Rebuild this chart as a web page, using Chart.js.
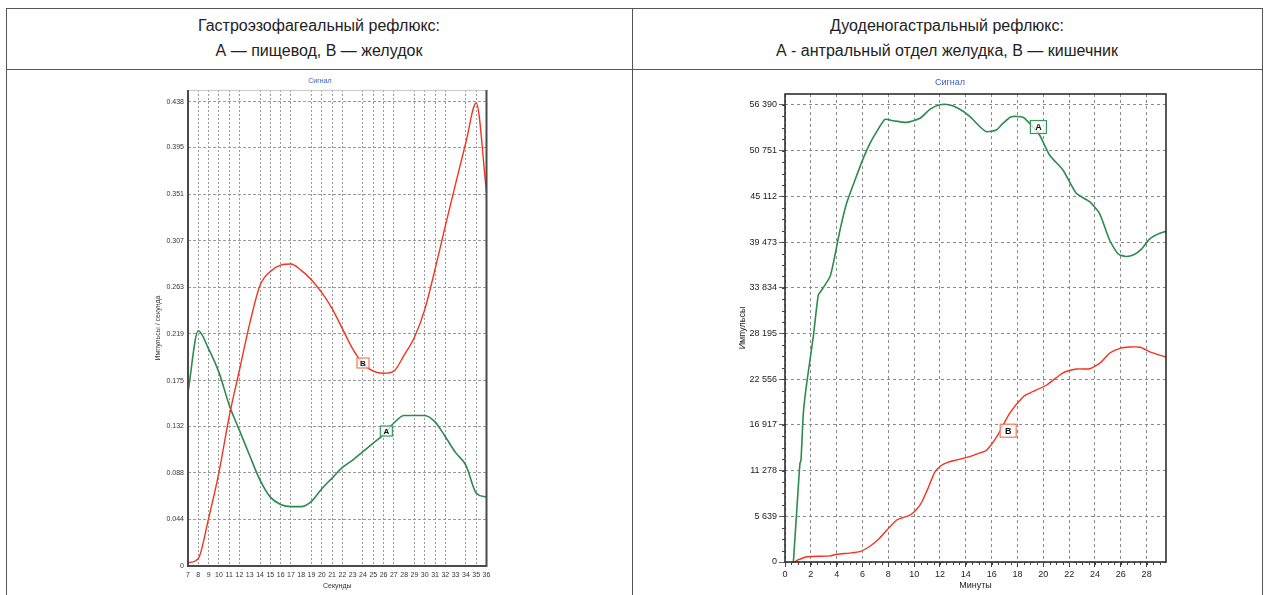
<!DOCTYPE html>
<html>
<head>
<meta charset="utf-8">
<script src="https://cdn.jsdelivr.net/npm/chart.js@4.4.1/dist/chart.umd.min.js"></script>
<style>
  html,body{margin:0;padding:0;background:#fff;}
  body{width:1267px;height:595px;overflow:hidden;position:relative;font-family:"Liberation Sans",Arial,sans-serif;}
  .ln{position:absolute;background:#555;}
  .hdr{position:absolute;top:13px;text-align:center;font-size:16px;line-height:25px;color:#222;}
  .cv{position:absolute;}
</style>
</head>
<body>
<div class="ln" style="left:6px;top:8px;width:1257px;height:1px;"></div>
<div class="ln" style="left:6px;top:69px;width:1257px;height:1px;"></div>
<div class="ln" style="left:6px;top:8px;width:1px;height:600px;"></div>
<div class="ln" style="left:632px;top:8px;width:1px;height:600px;"></div>
<div class="ln" style="left:1262px;top:8px;width:1px;height:600px;"></div>
<div class="hdr" style="left:6px;width:626px;">Гастроэзофагеальный рефлюкс:<br>А — пищевод, В — желудок</div>
<div class="hdr" style="left:632px;width:630px;">Дуоденогастральный рефлюкс:<br>А - антральный отдел желудка, В — кишечник</div>
<div class="cv" style="left:130px;top:72px;width:370px;height:523px;"><canvas id="c1"></canvas></div>
<div class="cv" style="left:720px;top:72px;width:470px;height:523px;"><canvas id="c2"></canvas></div>
<script>
// ---------- Left chart data (Гастроэзофагеальный рефлюкс) ----------
const leftSeconds = ['7','8','9','10','11','12','13','14','15','16','17','18','19','20','21','22','23','24','25','26','27','28','29','30','31','32','33','34','35','36'];
const leftA = [0.164,0.222,0.205,0.183,0.152,0.128,0.104,0.081,0.065,0.058,0.056,0.056,0.061,0.073,0.083,0.093,0.100,0.108,0.116,0.124,0.135,0.142,0.142,0.142,0.136,0.122,0.107,0.095,0.069,0.065];
const leftB = [0.003,0.007,0.045,0.088,0.141,0.185,0.229,0.265,0.278,0.284,0.285,0.279,0.270,0.258,0.243,0.224,0.205,0.191,0.184,0.182,0.184,0.199,0.216,0.242,0.280,0.321,0.361,0.400,0.437,0.353];
const leftYTicks = [0,0.044,0.088,0.132,0.175,0.219,0.263,0.307,0.351,0.395,0.438];
const leftYTickLabels = ['0','0.044','0.088','0.132','0.175','0.219','0.263','0.307','0.351','0.395','0.438'];
const leftMarkers = [{x:17.0,y:0.1916,text:'B',series:'B'},{x:19.27,y:0.1274,text:'A',series:'A'}];

// ---------- Right chart data (Дуоденогастральный рефлюкс) ----------
const rightAx = [0.65,0.83,1.03,1.16,1.24,1.42,1.68,2.19,2.58,2.84,3.48,3.74,4.26,4.77,5.42,6.06,6.58,7.1,7.74,8.38,9.42,10.45,11.22,12.0,12.77,13.54,14.32,15.09,15.6,16.36,16.87,17.52,18.42,18.94,19.71,20.48,21.52,22.55,23.58,24.35,25.13,25.8,26.4,27.0,27.6,28.2,28.8,29.5];
const rightAy = [0,4360,9290,12180,12590,18350,22050,27800,32950,33560,35200,36860,40970,44260,47140,49810,51660,53100,54620,54450,54250,54750,55860,56430,56390,55860,54950,53710,53100,53300,54130,54950,54880,54130,52690,50220,48370,45490,44460,43020,39730,38000,37700,37900,38600,39800,40400,40800];
const rightBx = [0.75,1.0,1.7,3.5,4.0,5.0,5.8,6.6,7.3,7.9,8.65,9.7,10.2,10.6,11.1,11.6,12.1,12.6,13.3,14.3,15.0,15.6,16.4,17.4,18.45,18.96,20.26,21.5,22.58,23.6,24.4,25.15,26.0,26.7,27.5,28.3,29.5];
const rightBy = [0,250,650,750,950,1100,1270,1970,2900,3950,5180,5800,6500,7440,9200,11100,11900,12300,12600,13000,13400,13800,15460,18380,20400,20850,21840,23320,23810,23850,24550,25790,26400,26530,26500,25900,25300];
const rightXTicks = [0,2,4,6,8,10,12,14,16,18,20,22,24,26,28];
const rightYTicks = [0,5639,11278,16917,22556,28195,33834,39473,45112,50751,56390];
const rightYTickLabels = ['0','5 639','11 278','16 917','22 556','28 195','33 834','39 473','45 112','50 751','56 390'];
const rightMarkers = [{x:19.62,y:53675,text:'A',series:'A'},{x:17.28,y:16200,text:'B',series:'B'}];

const GREEN = '#2e8b4e', RED = '#f2331d';
const FONT = '"Liberation Sans", Arial, sans-serif';

const markerPlugin = {
  id:'markers',
  afterDatasetsDraw(chart, args, opts){
    const {ctx, scales:{x, y}} = chart;
    ctx.save();
    opts.items.forEach(m => {
      const px = x.getPixelForValue(m.x), py = y.getPixelForValue(m.y);
      const w = opts.w, h = opts.h;
      ctx.fillStyle = 'rgba(255,255,255,0.75)';
      ctx.fillRect(px - w/2, py - h/2, w, h);
      ctx.strokeStyle = m.series === 'A' ? '#3a9a5a' : '#f07a5a';
      ctx.lineWidth = 1.2;
      ctx.strokeRect(px - w/2, py - h/2, w, h);
      ctx.fillStyle = '#111';
      ctx.font = 'bold ' + opts.fs + 'px ' + FONT;
      ctx.textAlign = 'center'; ctx.textBaseline = 'middle';
      ctx.fillText(m.text, px, py + 0.5);
    });
    ctx.restore();
  }
};

const framePlugin = {
  id:'frame',
  afterDatasetsDraw(chart, args, opts){
    const {ctx, chartArea:a} = chart;
    ctx.save();
    ctx.setLineDash([]);
    if (opts.style === 'left') {
      ctx.strokeStyle = '#c8c8c8'; ctx.lineWidth = 1;
      ctx.beginPath(); ctx.moveTo(a.left, a.top + 0.5); ctx.lineTo(a.right, a.top + 0.5); ctx.stroke();
      ctx.strokeStyle = '#4a4a4a'; ctx.lineWidth = 2;
      ctx.beginPath();
      ctx.moveTo(a.left, a.top); ctx.lineTo(a.left, a.bottom); ctx.lineTo(a.right, a.bottom); ctx.lineTo(a.right, a.top);
      ctx.stroke();
    } else {
      ctx.strokeStyle = '#222'; ctx.lineWidth = 1.5;
      ctx.strokeRect(a.left, a.top, a.right - a.left, a.bottom - a.top);
      // minor ticks
      const xs = chart.scales.x, ys = chart.scales.y;
      ctx.strokeStyle = '#444'; ctx.lineWidth = 1;
      ctx.beginPath();
      for (let v = 0.5; v < xs.max; v += 0.5) {
        const p = Math.round(xs.getPixelForValue(v)) + 0.5;
        ctx.moveTo(p, a.bottom); ctx.lineTo(p, a.bottom + 3);
      }
      const step = 5639/4;
      for (let v = step; v < ys.max; v += step) {
        const p = Math.round(ys.getPixelForValue(v)) + 0.5;
        ctx.moveTo(a.left - 3, p); ctx.lineTo(a.left, p);
      }
      ctx.stroke();
    }
    ctx.restore();
  }
};

function noPad(s){ s.paddingLeft = 0; s.paddingRight = 0; s.paddingTop = 0; s.paddingBottom = 0; }

// ---------- Left chart ----------
new Chart(document.getElementById('c1'), {
  type:'line',
  data:{
    labels:leftSeconds,
    datasets:[
      {label:'B', data:leftB, borderColor:RED, borderWidth:1.4, pointRadius:0, cubicInterpolationMode:'monotone'},
      {label:'A', data:leftA, borderColor:GREEN, borderWidth:1.6, pointRadius:0, cubicInterpolationMode:'monotone'}
    ]
  },
  options:{
    responsive:true, maintainAspectRatio:false, animation:false,
    layout:{padding:{left:23.5,right:13.5,top:0,bottom:0}},
    plugins:{
      legend:{display:false}, tooltip:{enabled:false},
      title:{display:true, text:'Сигнал', color:'#3a5ccc', font:{family:FONT,size:7,weight:'normal'}, padding:{top:5,bottom:4.6}},
      markers:{items:leftMarkers, w:12, h:10, fs:8},
      frame:{style:'left'}
    },
    scales:{
      x:{
        type:'category',
        afterFit(s){ s.height = 29; noPad(s); },
        grid:{drawTicks:false, lineWidth:1,
          color:(c)=>{ const v = 7 + c.index; return (v >= 13 && (v - 13) % 5 === 0) ? 'rgba(0,0,0,0)' : '#9a9a9a'; }},
        border:{display:false, dash:[2,2]},
        ticks:{autoSkip:false, maxRotation:0, minRotation:0, padding:5, color:'#333', font:{family:FONT,size:7}},
        title:{display:true, text:'Секунды', color:'#333', font:{family:FONT,size:7}, padding:{top:0,bottom:4.8}}
      },
      y:{
        min:0, max:0.4493,
        afterFit(s){ s.width = 34.5; noPad(s); },
        afterBuildTicks(s){ s.ticks = leftYTicks.map(v=>({value:v})); },
        grid:{drawTicks:false, color:'#9a9a9a', lineWidth:1},
        border:{display:false, dash:[3,2]},
        ticks:{padding:4, color:'#333', font:{family:FONT,size:7}, callback:(v,i)=>leftYTickLabels[i]},
        title:{display:true, text:'Импульсы / секунда', color:'#333', font:{family:FONT,size:7}, padding:{top:0,bottom:0}}
      }
    }
  },
  plugins:[markerPlugin, framePlugin]
});

// ---------- Right chart ----------
new Chart(document.getElementById('c2'), {
  type:'line',
  data:{
    datasets:[
      {label:'A', data:rightAx.map((x,i)=>({x, y:rightAy[i]})), borderColor:GREEN, borderWidth:1.6, pointRadius:0, tension:0.2},
      {label:'B', data:rightBx.map((x,i)=>({x, y:rightBy[i]})), borderColor:RED, borderWidth:1.4, pointRadius:0, tension:0.2}
    ]
  },
  options:{
    responsive:true, maintainAspectRatio:false, animation:false,
    layout:{padding:{left:14,right:24,top:0,bottom:0}},
    plugins:{
      legend:{display:false}, tooltip:{enabled:false},
      title:{display:true, text:'Сигнал', color:'#3a5ccc', font:{family:FONT,size:9,weight:'normal'}, padding:{top:5.2,bottom:6}},
      markers:{items:rightMarkers, w:16, h:13, fs:9},
      frame:{style:'right'}
    },
    scales:{
      x:{
        type:'linear', min:0, max:29.5,
        afterFit(s){ s.height = 33; noPad(s); },
        afterBuildTicks(s){ s.ticks = rightXTicks.map(v=>({value:v})); },
        grid:{drawTicks:true, tickLength:5, tickColor:'#444', tickWidth:1, color:'#8a8a8a', lineWidth:1},
        border:{display:false, dash:[3,3]},
        ticks:{padding:2, color:'#222', font:{family:FONT,size:9}},
        title:{display:true, text:'Минуты', color:'#222', font:{family:FONT,size:9}, padding:{top:0,bottom:3.6}}
      },
      y:{
        min:0, max:57747,
        afterFit(s){ s.width = 51; noPad(s); },
        afterBuildTicks(s){ s.ticks = rightYTicks.map(v=>({value:v})); },
        grid:{drawTicks:true, tickLength:6, tickColor:'#666', tickWidth:1, color:'#8a8a8a', lineWidth:1},
        border:{display:false, dash:[3,3]},
        ticks:{padding:2, color:'#222', font:{family:FONT,size:9}, callback:(v,i)=>rightYTickLabels[i]},
        title:{display:true, text:'Импульсы', color:'#222', font:{family:FONT,size:9}, padding:{top:3.6,bottom:0}}
      }
    }
  },
  plugins:[markerPlugin, framePlugin]
});
</script>
</body>
</html>
